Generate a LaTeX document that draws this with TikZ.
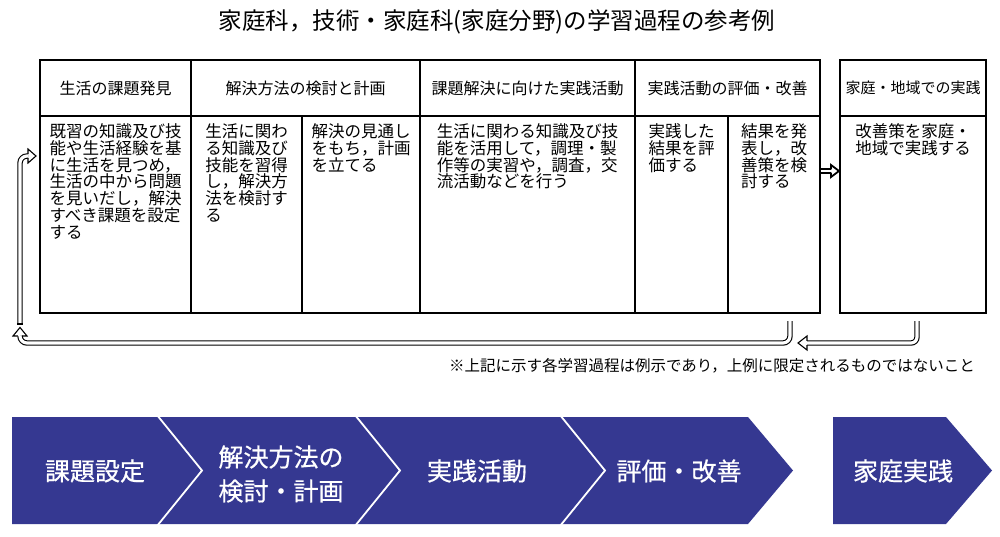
\documentclass[tikz,border=0pt]{standalone}
\usepackage{fontspec}
\newfontfamily\jp{Noto Sans CJK JP}
\newfontfamily\jpb{Noto Sans CJK JP}[FakeBold=0.6]
\definecolor{chev}{RGB}{53,56,145}
\newcommand\hhead[6]{\begin{scope}[shift={(#1)},rotate=#2]\draw[headline,line width=#6] (0,#3) -- (0,#4) -- (#5,0) -- (0,-#4) -- (0,-#3);\end{scope}}
\begin{document}
\begin{tikzpicture}[x=1pt,y=-1pt,
  cell/.style={draw, line width=1.2pt, inner sep=0pt, font=\jp\fontsize{16}{17}\selectfont},
  bodytxt/.style={inner sep=0pt, align=left, font=\jp\fontsize{16.5}{16.8}\selectfont, anchor=north},
  dbl/.style={draw, line width=1.1pt, double=white, double distance=3.2pt},
  dblb/.style={draw, line width=2pt, double=white, double distance=1.3pt},
  headline/.style={draw, line join=miter},
  chevtxt/.style={text=white, font=\jpb\fontsize{25}{34}\selectfont, align=center, inner sep=0pt}
]
\fill[white] (0,0) rectangle (1000,536);
\useasboundingbox (0,0) rectangle (1000,536);

% title
\node[inner sep=0pt, font=\jp\fontsize{23.5}{24}\selectfont] (title) at (497,22) {家庭科，技術・家庭科(家庭分野)の学習過程の参考例};

% header cells
\node[cell, minimum width=151pt, minimum height=56pt] (h1) at (115.5,88) {生活の課題発見};
\node[cell, minimum width=229pt, minimum height=56pt] (h2) at (305.5,88) {解決方法の検討と計画};
\node[cell, minimum width=215pt, minimum height=56pt] (h3) at (527.5,88) {課題解決に向けた実践活動};
\node[cell, minimum width=185pt, minimum height=56pt] (h4) at (727.5,88) {実践活動の評価・改善};
\node[cell, minimum width=146pt, minimum height=56pt, font=\jp\fontsize{15}{16}\selectfont] (h5) at (913,88) {家庭・地域での実践};

% body cells
\node[cell, minimum width=151pt, minimum height=197pt] (b1) at (115.5,214.5) {};
\node[cell, minimum width=111pt, minimum height=197pt] (b2) at (246.5,214.5) {};
\node[cell, minimum width=118pt, minimum height=197pt] (b3) at (361,214.5) {};
\node[cell, minimum width=215pt, minimum height=197pt] (b4) at (527.5,214.5) {};
\node[cell, minimum width=93pt, minimum height=197pt] (b5) at (681.5,214.5) {};
\node[cell, minimum width=92pt, minimum height=197pt] (b6) at (774,214.5) {};
\node[cell, minimum width=146pt, minimum height=197pt] (b7) at (913,214.5) {};

% body texts
\node[bodytxt] (t1) at ([yshift=-8pt]b1.north) {既習の知識及び技\\能や生活経験を基\\に生活を見つめ，\\生活の中から問題\\を見いだし，解決\\すべき課題を設定\\する};
\node[bodytxt] (t2) at ([yshift=-8pt]b2.north) {生活に関わ\\る知識及び\\技能を習得\\し，解決方\\法を検討す\\る};
\node[bodytxt] (t3) at ([yshift=-8pt]b3.north) {解決の見通し\\をもち，計画\\を立てる};
\node[bodytxt] (t4) at ([yshift=-8pt]b4.north) {生活に関わる知識及び技\\能を活用して，調理・製\\作等の実習や，調査，交\\流活動などを行う};
\node[bodytxt] (t5) at ([yshift=-8pt]b5.north) {実践した\\結果を評\\価する};
\node[bodytxt] (t6) at ([yshift=-8pt]b6.north) {結果を発\\表し，改\\善策を検\\討する};
\node[bodytxt] (t7) at ([yshift=-8pt]b7.north) {改善策を家庭・\\地域で実践する};

% arrow between tables
\coordinate (m1) at (b6.east |- 0,171);
\coordinate (m2) at (831,171);
\draw[dblb] (m1) -- (m2);
\hhead{m2}{0}{1.6}{6}{8}{1.8pt}

% return loop from evaluation to first column
\coordinate (r1) at (790,321);
\coordinate (r2) at (20,336);
\draw[dbl, rounded corners=7pt] (r1) -- (790,343) -- (20,343) -- (r2);
\hhead{r2}{90}{2.15}{7}{8.5}{1.1pt}

\coordinate (s1) at (20,324);
\coordinate (s2) at (28,156);
\draw[dbl, rounded corners=7pt] (s1) -- (20,156) -- (s2);
\draw[line width=1.1pt] (17.3,324) -- (22.7,324);
\hhead{s2}{0}{2.15}{7}{8}{1.1pt}

% return from home practice
\coordinate (q1) at (917,321);
\coordinate (q2) at (807,343);
\draw[dbl, rounded corners=6pt] (q1) -- (917,343) -- (q2);
\hhead{q2}{180}{2.15}{7}{9}{1.1pt}

% note
\node[anchor=east, inner sep=0pt, font=\jp\fontsize{15.5}{16}\selectfont] (note) at (975,366) {※上記に示す各学習過程は例示であり，上例に限定されるものではないこと};

% chevrons
\fill[chev] (12,417) -- (748,417) -- (793,470.5) -- (748,524) -- (12,524) -- cycle;
\draw[white, line width=1.8pt] (157,415) -- (202,470.5) -- (157,526);
\draw[white, line width=1.8pt] (355,415) -- (400,470.5) -- (355,526);
\draw[white, line width=1.8pt] (560,415) -- (605,470.5) -- (560,526);
\fill[chev] (833,417) -- (946,417) -- (992,470.5) -- (946,524) -- (833,524) -- cycle;

\node[chevtxt] (c1) at (95,471) {課題設定};
\node[chevtxt] (c2) at (281,474) {解決方法の\\検討・計画};
\node[chevtxt] (c3) at (477,471) {実践活動};
\node[chevtxt] (c4) at (679,471) {評価・改善};
\node[chevtxt] (c5) at (903,471) {家庭実践};
\end{tikzpicture}
\end{document}
